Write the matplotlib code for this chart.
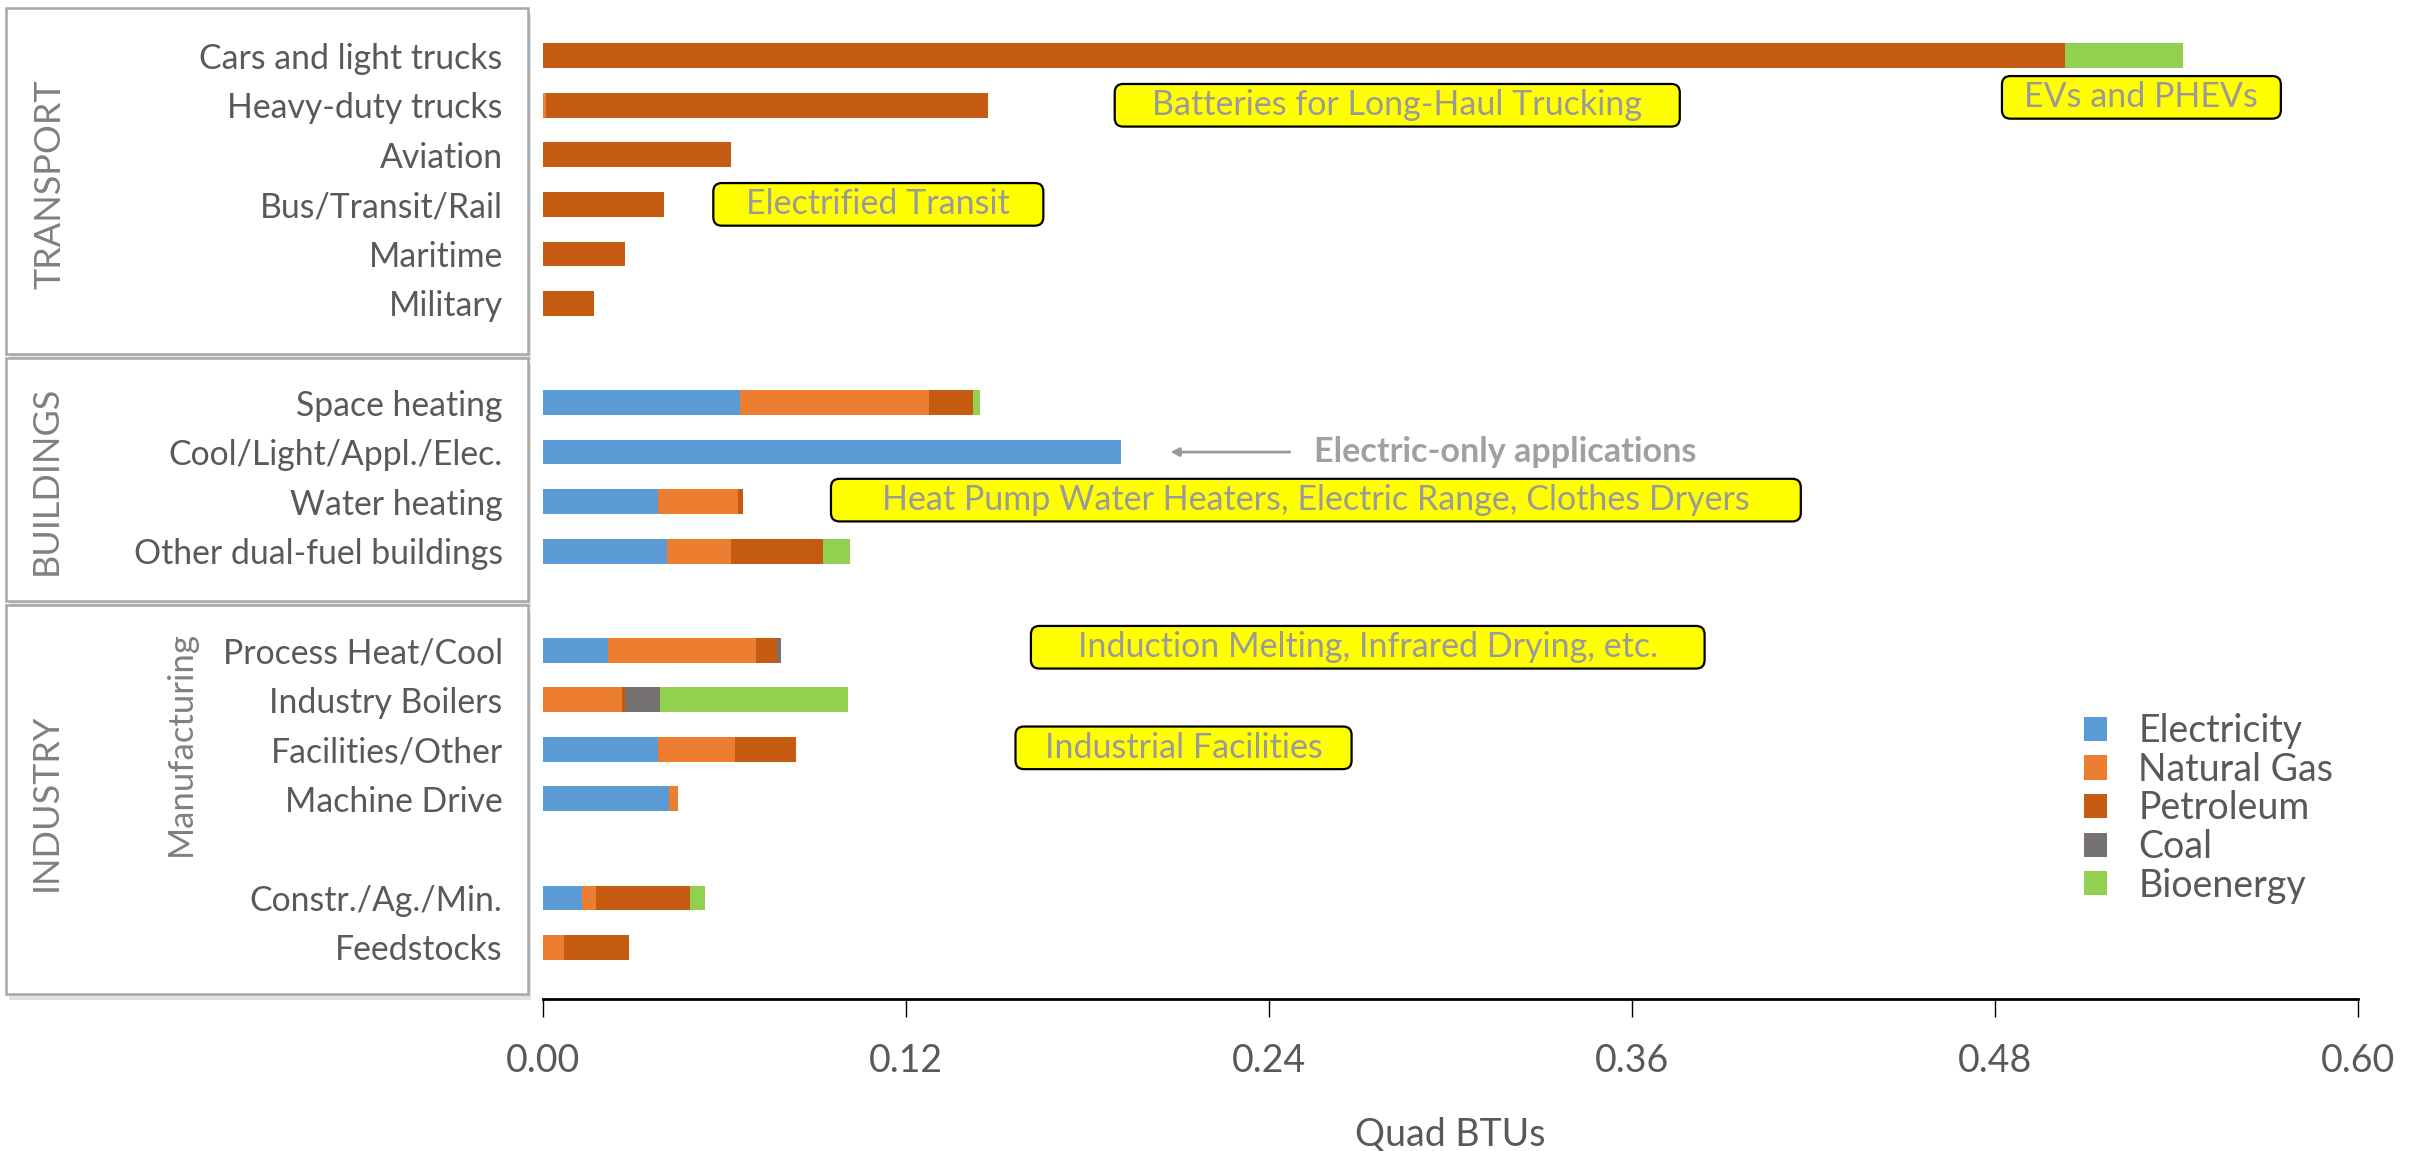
import matplotlib
matplotlib.use("Agg")
import matplotlib.pyplot as plt
from matplotlib.patches import Rectangle, FancyBboxPatch
import numpy as np

# ---------------- data ----------------
categories = ["Cars and light trucks", "Heavy-duty trucks", "Aviation", "Bus/Transit/Rail",
              "Maritime", "Military",
              "Space heating", "Cool/Light/Appl./Elec.", "Water heating", "Other dual-fuel buildings",
              "Process Heat/Cool", "Industry Boilers", "Facilities/Other", "Machine Drive",
              "Constr./Ag./Min.", "Feedstocks"]
group_sizes = [6, 4, 4, 2]  # transport, buildings, manufacturing, other industry

series_names = ["Electricity", "Natural Gas", "Petroleum", "Coal", "Bioenergy"]
electricity = [0, 0, 0, 0, 0, 0, 0.065, 0.191, 0.038, 0.041, 0.0215, 0, 0.038, 0.0415, 0.013, 0]
natural_gas = [0, 0.001, 0, 0, 0, 0, 0.0625, 0, 0.0265, 0.021, 0.049, 0.026, 0.0255, 0.0032, 0.0045, 0.007]
petroleum = [0.503, 0.146, 0.062, 0.040, 0.027, 0.017, 0.0145, 0, 0.0015, 0.0305, 0.007, 0.001, 0.020, 0, 0.031, 0.0215]
coal = [0, 0, 0, 0, 0, 0, 0, 0, 0, 0, 0.0013, 0.0116, 0, 0, 0, 0]
bioenergy = [0.039, 0, 0, 0, 0, 0, 0.0025, 0, 0, 0.009, 0, 0.0623, 0, 0, 0.005, 0]

x_ticks = [0.00, 0.12, 0.24, 0.36, 0.48, 0.60]
x_label = "Quad BTUs"

note_texts = ["Batteries for Long-Haul Trucking", "EVs and PHEVs", "Electrified Transit",
              "Heat Pump Water Heaters, Electric Range, Clothes Dryers",
              "Induction Melting, Infrared Drying, etc.", "Industrial Facilities"]
note_x0 = [0.189, 0.4823, 0.0563, 0.0952, 0.1613, 0.1562]
note_x1 = [0.3758, 0.5745, 0.1654, 0.4158, 0.3840, 0.2673]
note_y = [1.0, 0.84, 3.0, 8.97, 11.94, 13.97]

# ---------------- style ----------------
colors = ["#5B9BD5", "#ED7D31", "#C55A11", "#767171", "#92D050"]
txt = "#595959"
FONT = "Lato"
plt.rcParams["font.family"] = [FONT, "DejaVu Sans"]

W, H = 2428, 1151
fig = plt.figure(figsize=(W / 100, H / 100), dpi=100)

# side panels (behind everything)
panels = [(6, 8, 528, 354), (6, 358, 528, 601), (6, 605, 528, 994)]
for (x0, y0, x1, y1) in panels:
    sh = Rectangle((x0 / W + 3 / W, 1 - (y1 + 6) / H), (x1 - x0) / W, (y1 - y0) / H,
                   transform=fig.transFigure, facecolor="#D0D0D0", edgecolor="none",
                   alpha=0.6, zorder=-3)
    fig.add_artist(sh)
    r = Rectangle((x0 / W, 1 - y1 / H), (x1 - x0) / W, (y1 - y0) / H,
                  transform=fig.transFigure, facecolor="white", edgecolor="#A6A6A6",
                  linewidth=1.8, zorder=-2)
    fig.add_artist(r)

ax_left, ax_right, ax_bot, ax_top = 543, 2358, 999, 6.2
ax = fig.add_axes([ax_left / W, 1 - ax_bot / H, (ax_right - ax_left) / W, (ax_bot - ax_top) / H])
ax.set_zorder(1)
ax.patch.set_alpha(0)

# positions from group structure (one empty slot between groups)
pos = []
i = 0
for g in group_sizes:
    for _ in range(g):
        pos.append(i)
        i += 1
    i += 1
pos = np.array(pos, dtype=float)

left = np.zeros(len(categories))
handles = []
for name, vals, c in zip(series_names, [electricity, natural_gas, petroleum, coal, bioenergy], colors):
    vals = np.array(vals)
    b = ax.barh(pos, vals, left=left, height=0.5, color=c, label=name, edgecolor="none")
    handles.append(b)
    left = left + vals

ax.set_xlim(0, 0.6)
ax.set_ylim(19.04, -1)
ax.set_yticks(pos)
ax.set_yticklabels(categories, fontsize=24.3, color=txt)
ax.tick_params(axis="y", length=0, pad=29)
ax.set_xticks(x_ticks)
ax.set_xticklabels([f"{v:.2f}" for v in x_ticks], fontsize=27, color=txt)
ax.tick_params(axis="x", length=13, width=1, color="black", pad=19, direction="out")
ax.set_xlabel(x_label, fontsize=27, color=txt, labelpad=27)
for s in ["top", "right", "left"]:
    ax.spines[s].set_visible(False)
ax.spines["bottom"].set_linewidth(2.0)
ax.spines["bottom"].set_color("black")

# annotation boxes
aspect = (3025.0 / 49.6)
for t, x0, x1, y in zip(note_texts, note_x0, note_x1, note_y):
    hh = 0.43
    box = FancyBboxPatch((x0, y - hh), x1 - x0, 2 * hh,
                         boxstyle="round,pad=0,rounding_size=0.0028",
                         mutation_aspect=aspect,
                         facecolor="#FFFF00", edgecolor="black", linewidth=1.6, zorder=3)
    ax.add_patch(box)
    ax.text((x0 + x1) / 2, y, t, ha="center", va="center", fontsize=24.5,
            color="#9A9A9A", zorder=4)

# electric-only arrow
ax.annotate("", xy=(0.2065, 8), xytext=(0.2478, 8),
            arrowprops=dict(arrowstyle="-|>,head_length=0.5,head_width=0.25",
                            color="#999999", lw=2))
ax.text(0.255, 8, "Electric-only applications", fontsize=24.6, fontweight="bold",
        color="#A0A0A0", va="center", ha="left")

# legend
fs_leg = 27
leg = fig.legend(handles=handles, labels=series_names, loc="upper left",
                 bbox_to_anchor=(2084 / W, 1 - 713 / H), bbox_transform=fig.transFigure,
                 frameon=False, fontsize=fs_leg, borderpad=0, borderaxespad=0,
                 handlelength=0.62, handleheight=0.62, handletextpad=0.83,
                 labelspacing=0.07)
for t in leg.get_texts():
    t.set_color(txt)

panel_labels = [("TRANSPORT", 50, 184, 26), ("BUILDINGS", 46, 480, 26),
                ("INDUSTRY", 46, 802, 26), ("Manufacturing", 181, 743, 25)]
for t, x, y, fs in panel_labels:
    fig.text(x / W, 1 - y / H, t, rotation=90, ha="center", va="center",
             fontsize=fs, color="#808080", zorder=5)

fig.savefig("out.png", dpi=100)
